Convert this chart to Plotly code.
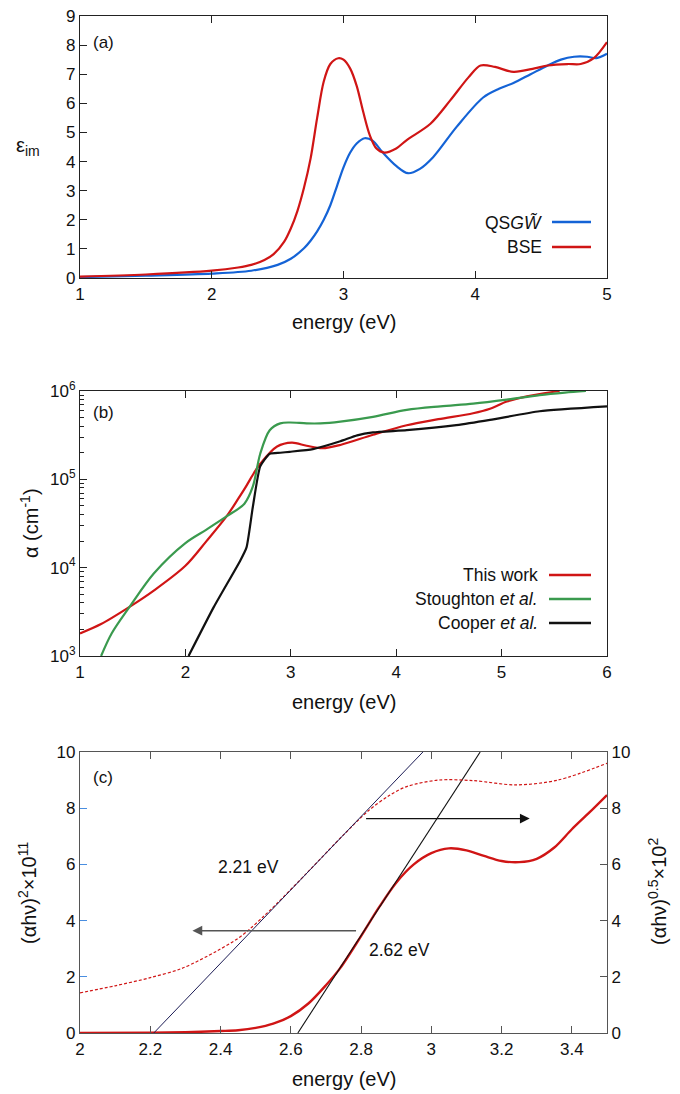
import plotly.graph_objects as go

# ---------------- data ----------------
# (a) imaginary part of dielectric function
E_qsgw = [1.0, 1.5, 2.0, 2.3, 2.5, 2.6, 2.7, 2.75, 2.8, 2.85, 2.9, 2.95, 3.0, 3.05, 3.1, 3.16, 3.22, 3.3, 3.4,
          3.49, 3.58, 3.68, 3.86, 4.06, 4.18, 4.29, 4.42, 4.55, 4.65, 4.75, 4.85, 4.92, 5.0]
eps_qsgw = [0.03, 0.08, 0.15, 0.25, 0.45, 0.66, 1.02, 1.28, 1.6, 2.0, 2.5, 3.15, 3.8, 4.3, 4.62, 4.8, 4.72, 4.3,
            3.85, 3.6, 3.75, 4.15, 5.2, 6.2, 6.5, 6.7, 7.0, 7.3, 7.5, 7.6, 7.6, 7.55, 7.7]
E_bse = [1.0, 1.5, 2.0, 2.2, 2.3, 2.4, 2.47, 2.55, 2.6, 2.65, 2.7, 2.75, 2.8, 2.85, 2.9, 2.96, 3.0, 3.05, 3.1,
         3.15, 3.2, 3.25, 3.31, 3.4, 3.48, 3.66, 3.81, 3.95, 4.04, 4.15, 4.29, 4.45, 4.55, 4.7, 4.8, 4.9, 5.0]
eps_bse = [0.05, 0.12, 0.25, 0.36, 0.45, 0.62, 0.82, 1.25, 1.7, 2.3, 3.1, 4.1, 5.5, 6.75, 7.35, 7.55, 7.5, 7.2,
           6.6, 5.7, 4.9, 4.45, 4.31, 4.45, 4.74, 5.3, 6.1, 6.9, 7.3, 7.25, 7.08, 7.2, 7.3, 7.35, 7.35, 7.55, 8.1]

# (b) absorption coefficient
E_this = [1.0, 1.2, 1.47, 1.7, 2.0, 2.2, 2.39, 2.5, 2.58, 2.65, 2.71, 2.87, 3.01, 3.15, 3.3, 3.47, 3.78, 4.1,
          4.4, 4.73, 4.89, 5.05, 5.24, 5.55]
a_this = [1.8e3, 2.3e3, 3.6e3, 5.5e3, 1.05e4, 2.0e4, 3.8e4, 6.0e4, 8.5e4, 1.18e5, 1.5e5, 2.35e5, 2.6e5, 2.4e5,
          2.25e5, 2.45e5, 3.2e5, 4.1e5, 4.8e5, 5.6e5, 6.3e5, 7.6e5, 8.7e5, 1e6]
E_stough = [1.2, 1.3, 1.47, 1.7, 2.0, 2.2, 2.39, 2.56, 2.64, 2.71, 2.8, 2.9, 2.99, 3.15, 3.28, 3.47, 3.78,
            4.1, 4.42, 4.73, 5.05, 5.36, 5.6, 5.8]
a_stough = [1e3, 1.8e3, 3.6e3, 8.6e3, 1.9e4, 2.7e4, 3.8e4, 5.3e4, 8.3e4, 1.95e5, 3.6e5, 4.3e5, 4.4e5, 4.3e5,
            4.3e5, 4.5e5, 5.1e5, 6.1e5, 6.7e5, 7.2e5, 8e5, 9e5, 9.6e5, 1e6]
E_cooper = [2.03, 2.27, 2.52, 2.58, 2.64, 2.71, 2.8, 2.9, 2.99, 3.21, 3.47, 3.63, 3.78, 4.1, 4.57, 4.89,
            5.36, 6.0]
a_cooper = [1e3, 3.6e3, 1.2e4, 1.7e4, 4.9e4, 1.4e5, 1.95e5, 2.0e5, 2.05e5, 2.2e5, 2.7e5, 3.15e5, 3.4e5,
            3.6e5, 4.1e5, 4.7e5, 5.9e5, 6.7e5]

# (c) Tauc plots
E_sq = [2.0, 2.2, 2.3, 2.4, 2.45, 2.5, 2.55, 2.6, 2.65, 2.7, 2.74, 2.8, 2.85, 2.9, 2.95, 3.0, 3.05, 3.1, 3.15,
        3.2, 3.25, 3.3, 3.35, 3.4, 3.45, 3.5]
tauc_sq = [0.0, 0.01, 0.03, 0.07, 0.1, 0.18, 0.33, 0.6, 1.05, 1.7, 2.3, 3.45, 4.45, 5.35, 6.0, 6.4, 6.57, 6.5,
           6.3, 6.12, 6.08, 6.2, 6.6, 7.25, 7.85, 8.47]
E_sqrt = [2.0, 2.1, 2.2, 2.29, 2.39, 2.45, 2.485, 2.52, 2.56, 2.65, 2.75, 2.82, 2.88, 2.93, 3.02, 3.12, 3.24,
          3.36, 3.5]
tauc_sqrt = [1.43, 1.68, 1.97, 2.3, 2.92, 3.37, 3.72, 4.12, 4.6, 5.75, 7.05, 7.9, 8.45, 8.77, 9.0, 8.98, 8.83,
             9.0, 9.6]
fit_indirect_E = [2.21, 2.976]
fit_indirect_v = [0, 10]
fit_direct_E = [2.62, 3.139]
fit_direct_v = [0, 10]

# ---------------- styling ----------------
W, H = 680, 1094
FONT = "Liberation Sans, Arial, sans-serif"
RED = "#d01515"
BLUE = "#1463d6"
GREEN = "#3a9a4e"
BLACK = "#111111"


def px(x):
    return x / W


def py(y):
    return 1 - y / H


xdom = [px(80), px(607)]
fig = go.Figure()

spl = dict(shape="spline", smoothing=0.9)
# (a)
fig.add_trace(go.Scatter(x=E_qsgw, y=eps_qsgw, mode="lines", line=dict(color=BLUE, width=2.2, **spl),
                         xaxis="x", yaxis="y", showlegend=False))
fig.add_trace(go.Scatter(x=E_bse, y=eps_bse, mode="lines", line=dict(color=RED, width=2.2, **spl),
                         xaxis="x", yaxis="y", showlegend=False))
# (b)
fig.add_trace(go.Scatter(x=E_this, y=a_this, mode="lines", line=dict(color=RED, width=2.2, **spl),
                         xaxis="x2", yaxis="y2", showlegend=False))
fig.add_trace(go.Scatter(x=E_stough, y=a_stough, mode="lines", line=dict(color=GREEN, width=2.2, **spl),
                         xaxis="x2", yaxis="y2", showlegend=False))
fig.add_trace(go.Scatter(x=E_cooper, y=a_cooper, mode="lines", line=dict(color=BLACK, width=2.2, shape="spline", smoothing=0.5),
                         xaxis="x2", yaxis="y2", showlegend=False))
# (c)
fig.add_trace(go.Scatter(x=E_sqrt, y=tauc_sqrt, mode="lines", line=dict(color=RED, width=1.2, dash="3px,2px", **spl),
                         xaxis="x3", yaxis="y4", showlegend=False))
fig.add_trace(go.Scatter(x=fit_indirect_E, y=fit_indirect_v, mode="lines", line=dict(color="#1c1c55", width=1),
                         xaxis="x3", yaxis="y4", showlegend=False))
fig.add_trace(go.Scatter(x=E_sq, y=tauc_sq, mode="lines", line=dict(color=RED, width=2.4, **spl),
                         xaxis="x3", yaxis="y3", showlegend=False))
fig.add_trace(go.Scatter(x=fit_direct_E, y=fit_direct_v, mode="lines", line=dict(color=BLACK, width=1.1),
                         xaxis="x3", yaxis="y3", showlegend=False))

tickfont = dict(family=FONT, size=17, color="#111")
common = dict(showgrid=False, zeroline=False, ticks="inside", ticklen=7, tickfont=tickfont,
              linecolor="#222", linewidth=1.2, tickcolor="#222", automargin=False)

fig.update_layout(
    width=W, height=H, margin=dict(l=0, r=0, t=0, b=0, autoexpand=False),
    paper_bgcolor="white", plot_bgcolor="white",
    font=dict(family=FONT, color="#111"),
    xaxis=dict(domain=xdom, anchor="y", range=[1, 5], tickvals=[1, 2, 3, 4, 5], mirror="ticks", **common),
    yaxis=dict(domain=[py(278), py(16)], anchor="x", range=[0, 9], dtick=1, mirror=True, **common),
    xaxis2=dict(domain=xdom, anchor="y2", range=[1, 6], tickvals=[1, 2, 3, 4, 5, 6], mirror="ticks", **common),
    yaxis2=dict(domain=[py(656), py(391)], anchor="x2", type="log", range=[3, 6],
                tickvals=[1e3, 1e4, 1e5, 1e6],
                ticktext=["10<sup>3</sup>", "10<sup>4</sup>", "10<sup>5</sup>", "10<sup>6</sup>"],
                minor=dict(ticks="inside", ticklen=4, tickcolor="#222",
                           tickvals=[k * 10 ** n for n in (3, 4, 5) for k in range(2, 10)]),
                mirror=True, **common),
    xaxis3=dict(domain=xdom, anchor="y3", range=[2, 3.5],
                tickvals=[2, 2.2, 2.4, 2.6, 2.8, 3, 3.2, 3.4],
                ticktext=["2", "2.2", "2.4", "2.6", "2.8", "3", "3.2", "3.4"], mirror="ticks",
                **{**common, "linecolor": "#555", "tickcolor": "#555"}),
    yaxis3=dict(domain=[py(1033), py(752)], anchor="x3", range=[0, 10], dtick=2,
                **{**common, "linecolor": "#555", "tickcolor": "#4a8ee0"}),
    yaxis4=dict(overlaying="y3", anchor="x3", side="right", range=[0, 10], dtick=2,
                **{**common, "linecolor": "#555", "tickcolor": "#555"}),
)

ann = []
titlefont = dict(family=FONT, size=20, color="#111")
# x titles
for yc in (322, 702, 1079):
    ann.append(dict(text="energy (eV)", x=px(344), y=py(yc), xref="paper", yref="paper",
                    showarrow=False, font=titlefont, xanchor="center", yanchor="middle"))
# y titles
ann.append(dict(text="ε<sub>im</sub>", x=px(28), y=py(147), xref="paper", yref="paper", showarrow=False,
                font=titlefont, xanchor="center", yanchor="middle"))
ann.append(dict(text="α (cm<sup>-1</sup>)", x=px(29), y=py(523), xref="paper", yref="paper", showarrow=False,
                font=titlefont, textangle=-90, xanchor="center", yanchor="middle"))
ann.append(dict(text="(αhν)<sup>2</sup>×10<sup>11</sup>", x=px(27), y=py(893), xref="paper", yref="paper",
                showarrow=False, font=titlefont, textangle=-90, xanchor="center", yanchor="middle"))
ann.append(dict(text="(αhν)<sup>0.5</sup>×10<sup>2</sup>", x=px(657), y=py(892), xref="paper", yref="paper",
                showarrow=False, font=titlefont, textangle=-90, xanchor="center", yanchor="middle"))
# panel labels
for lab, yc in (("(a)", 43), ("(b)", 412), ("(c)", 777)):
    ann.append(dict(text=lab, x=px(91), y=py(yc), xref="paper", yref="paper", showarrow=False,
                    font=dict(family=FONT, size=17, color="#111"), xanchor="left", yanchor="middle"))

# legends (text right-aligned, sample line at right)
legfont = dict(family=FONT, size=17.5, color="#111")
shapes = []
leg_a = [("QS<i>G</i><i>W̃</i>", BLUE, 222), ("BSE", RED, 247)]
for txt, col, yc in leg_a:
    ann.append(dict(text=txt, x=px(544), y=py(yc), xref="paper", yref="paper", showarrow=False,
                    font=legfont, xanchor="right", yanchor="middle"))
    shapes.append(dict(type="line", xref="paper", yref="paper", x0=px(552), x1=px(591), y0=py(yc), y1=py(yc),
                       line=dict(color=col, width=2.4)))
leg_b = [("This work", RED, 575), ("Stoughton <i>et al.</i>", GREEN, 599), ("Cooper <i>et al.</i>", BLACK, 623)]
for txt, col, yc in leg_b:
    ann.append(dict(text=txt, x=px(540), y=py(yc), xref="paper", yref="paper", showarrow=False,
                    font=legfont, xanchor="right", yanchor="middle"))
    shapes.append(dict(type="line", xref="paper", yref="paper", x0=px(549), x1=px(591), y0=py(yc), y1=py(yc),
                       line=dict(color=col, width=2.4)))

# panel (c) text and arrows
ann.append(dict(text="2.21 eV", x=2.48, y=5.92, xref="x3", yref="y3", showarrow=False,
                font=dict(family=FONT, size=17.5, color="#111")))
ann.append(dict(text="2.62 eV", x=2.91, y=2.95, xref="x3", yref="y3", showarrow=False,
                font=dict(family=FONT, size=17.5, color="#111")))
ann.append(dict(text="", x=2.32, y=3.64, ax=2.79, ay=3.64, xref="x3", yref="y3", axref="x3", ayref="y3",
                showarrow=True, arrowhead=2, arrowsize=1.4, arrowwidth=1.4, arrowcolor="#555"))
ann.append(dict(text="", x=3.28, y=7.63, ax=2.81, ay=7.63, xref="x3", yref="y3", axref="x3", ayref="y3",
                showarrow=True, arrowhead=2, arrowsize=1.4, arrowwidth=1.4, arrowcolor="#111"))

fig.update_layout(annotations=ann, shapes=shapes)
fig.write_html("out.html", config={"displayModeBar": False},
               post_script="document.body.style.margin='0px';document.body.style.overflow='hidden';")
